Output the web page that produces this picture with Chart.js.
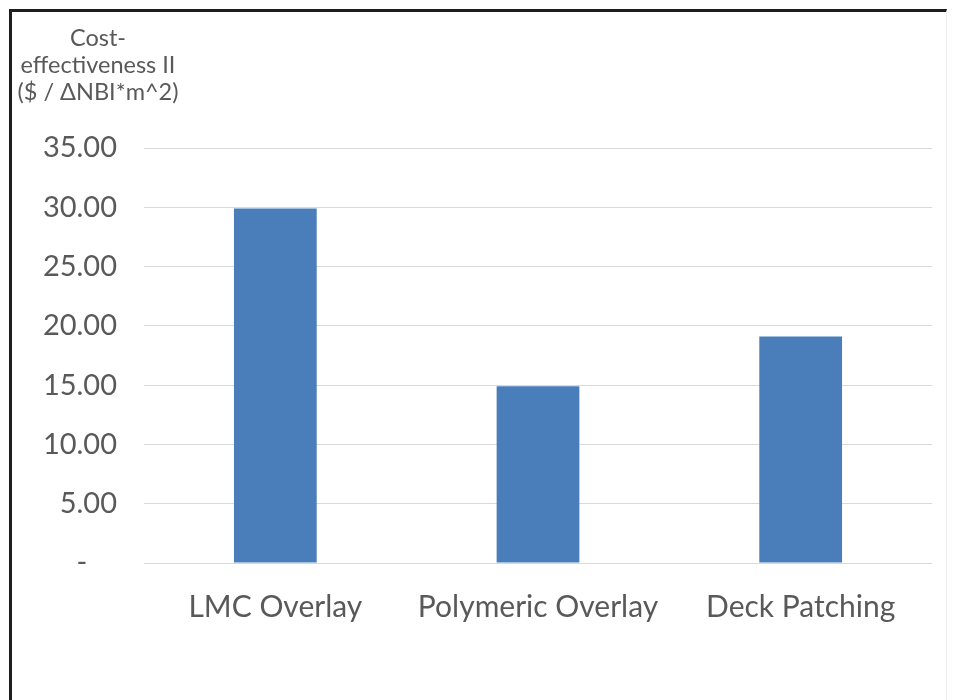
<!DOCTYPE html>
<html>
<head>
<meta charset="utf-8">
<script src="https://cdn.jsdelivr.net/npm/chart.js@4.4.1/dist/chart.umd.min.js"></script>
<style>
  html, body { margin: 0; padding: 0; background: #fff; }
  .wrap { position: relative; width: 953px; height: 700px; overflow: hidden; }
  .frame {
    position: absolute; left: 9px; top: 9px; width: 934px; height: 690px;
    border-left: 3px solid #1e1e1e; border-top: 3px solid #1e1e1e;
    border-right: 1px solid #ececec;
    pointer-events: none;
  }
  canvas { position: absolute; left: 0; top: 0; }
</style>
</head>
<body>
<div class="wrap">
  <canvas id="chart" width="953" height="700"></canvas>
  <div class="frame"></div>
</div>
<script>
const categories = ['LMC Overlay', 'Polymeric Overlay', 'Deck Patching'];
const costEffectiveness = [29.9, 14.9, 19.1];
const yTitleLines = ['Cost-', 'effectiveness II', '($ / \u0394NBI*m^2)'];
const yMax = 35;
const yStep = 5;

const textColor = '#595959';
const gridColor = '#d9d9d9';
const barColor = '#4a7ebb';

// y-axis title sits above the tick labels, centred, like Excel's horizontal title
const yTitlePlugin = {
  id: 'yTitle',
  afterDraw(chart) {
    const { ctx } = chart;
    ctx.save();
    ctx.font = '23.5px Lato';
    ctx.fillStyle = textColor;
    ctx.textAlign = 'center';
    ctx.textBaseline = 'alphabetic';
    const baselines = [46, 73, 100];
    yTitleLines.forEach((line, i) => ctx.fillText(line, 98, baselines[i]));
    ctx.restore();
  },
};

new Chart(document.getElementById('chart'), {
  type: 'bar',
  data: {
    labels: categories,
    datasets: [
      {
        data: costEffectiveness,
        backgroundColor: barColor,
        borderWidth: 0,
        barPercentage: 0.315,
        categoryPercentage: 1,
      },
    ],
  },
  options: {
    responsive: false,
    animation: false,
    layout: {
      padding: { top: 148, right: 21, bottom: 0, left: 0 },
    },
    plugins: {
      legend: { display: false },
      tooltip: { enabled: false },
    },
    scales: {
      x: {
        grid: { display: false },
        border: { display: false },
        ticks: {
          color: textColor,
          font: { family: 'Lato', size: 30 },
          padding: 18,
          maxRotation: 0,
        },
        afterFit: scale => {
          scale.height = 137;
        },
      },
      y: {
        min: 0,
        max: yMax,
        grid: { color: gridColor, drawTicks: false },
        border: { display: false },
        ticks: {
          stepSize: yStep,
          color: textColor,
          font: { family: 'Lato', size: 29 },
          padding: 27,
          callback: v => (v === 0 ? '-    ' : v.toFixed(2)),
        },
        afterFit: scale => {
          scale.width = 144;
        },
      },
    },
  },
  plugins: [yTitlePlugin],
});
</script>
</body>
</html>
